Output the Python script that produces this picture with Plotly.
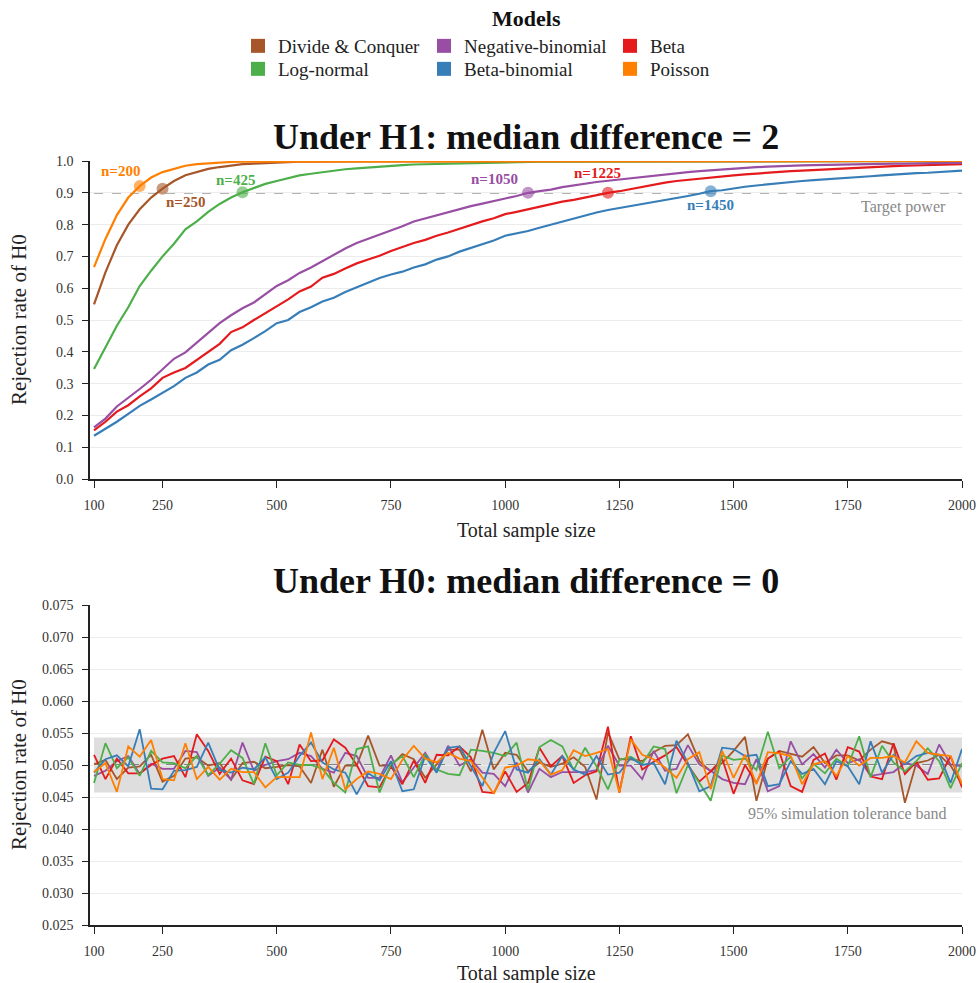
import plotly.graph_objects as go

# ---------------- data ----------------
sample_sizes = list(range(100, 2001, 25))
x_ticks = [100, 250, 500, 750, 1000, 1250, 1500, 1750, 2000]

models = ["Divide & Conquer", "Negative-binomial", "Beta", "Log-normal", "Beta-binomial", "Poisson"]
colors = {"Divide & Conquer": "#a65628", "Negative-binomial": "#984ea3", "Beta": "#e41a1c",
          "Log-normal": "#4daf4a", "Beta-binomial": "#377eb8", "Poisson": "#ff7f00"}

# Power under H1 (median difference = 2)
h1_divide_conquer = [
    .549, .650, .735, .800, .848, .885, .913, .937, .955, .966,
    .975, .981, .986, .990, .992, .994, .996, .997, .998, .998,
    .999, .999, .999, .999, .999, 1.0, 1.0, 1.0, 1.0, 1.0,
    1.0, 1.0, 1.0, 1.0, 1.0, 1.0, 1.0, 1.0, 1.0, 1.0,
    1.0, 1.0, 1.0, 1.0, 1.0, 1.0, 1.0, 1.0, 1.0, 1.0,
    1.0, 1.0, 1.0, 1.0, 1.0, 1.0, 1.0, 1.0, 1.0, 1.0,
    1.0, 1.0, 1.0, 1.0, 1.0, 1.0, 1.0, 1.0, 1.0, 1.0,
    1.0, 1.0, 1.0, 1.0, 1.0, 1.0, 1.0]
h1_negative_binomial = [
    .162, .190, .228, .255, .283, .312, .344, .378, .398, .428,
    .458, .490, .515, .537, .555, .580, .607, .625, .648, .665,
    .685, .705, .725, .742, .755, .770, .783, .795, .810, .820,
    .830, .840, .850, .858, .866, .875, .882, .890, .900, .905,
    .910, .918, .924, .929, .934, .938, .942, .946, .951, .955,
    .958, .962, .965, .968, .971, .974, .977, .979, .981, .982,
    .984, .985, .986, .987, .988, .989, .989, .990, .991, .991,
    .992, .992, .993, .993, .994, .994, .995]
h1_beta = [
    .153, .180, .212, .232, .260, .285, .318, .335, .349, .375,
    .400, .425, .462, .477, .500, .522, .545, .565, .590, .605,
    .633, .645, .662, .678, .690, .702, .717, .730, .742, .752,
    .765, .775, .787, .797, .810, .820, .833, .840, .848, .858,
    .865, .872, .878, .886, .893, .900, .905, .912, .918, .925,
    .932, .937, .941, .945, .949, .952, .955, .958, .961, .964,
    .966, .968, .970, .972, .974, .976, .978, .979, .981, .982,
    .984, .985, .986, .987, .988, .989, .990]
h1_log_normal = [
    .346, .415, .482, .540, .607, .655, .700, .740, .785, .810,
    .840, .865, .885, .902, .915, .928, .937, .945, .955, .960,
    .965, .970, .974, .977, .980, .983, .985, .987, .989, .990,
    .991, .992, .993, .994, .995, .996, .996, .997, .997, .998,
    .998, .998, .998, .999, .999, .999, .999, .999, .999, .999,
    .999, .999, 1.0, 1.0, 1.0, 1.0, 1.0, 1.0, 1.0, 1.0,
    1.0, 1.0, 1.0, 1.0, 1.0, 1.0, 1.0, 1.0, 1.0, 1.0,
    1.0, 1.0, 1.0, 1.0, 1.0, 1.0, 1.0]
h1_beta_binomial = [
    .136, .158, .180, .205, .230, .250, .270, .292, .318, .335,
    .360, .375, .405, .422, .443, .465, .490, .500, .525, .540,
    .558, .570, .588, .603, .617, .632, .643, .652, .665, .675,
    .690, .700, .715, .727, .740, .750, .765, .772, .780, .790,
    .800, .810, .818, .828, .838, .846, .852, .860, .866, .872,
    .878, .884, .890, .897, .905, .908, .914, .919, .923, .927,
    .931, .934, .937, .940, .942, .944, .947, .950, .952, .955,
    .958, .960, .962, .963, .966, .968, .970]
h1_poisson = [
    .666, .755, .830, .885, .921, .948, .965, .976, .985, .990,
    .993, .995, .997, .998, .998, .999, .999, 1.0, 1.0, 1.0,
    1.0, 1.0, 1.0, 1.0, 1.0, 1.0, 1.0, 1.0, 1.0, 1.0,
    1.0, 1.0, 1.0, 1.0, 1.0, 1.0, 1.0, 1.0, 1.0, 1.0,
    1.0, 1.0, 1.0, 1.0, 1.0, 1.0, 1.0, 1.0, 1.0, 1.0,
    1.0, 1.0, 1.0, 1.0, 1.0, 1.0, 1.0, 1.0, 1.0, 1.0,
    1.0, 1.0, 1.0, 1.0, 1.0, 1.0, 1.0, 1.0, 1.0, 1.0,
    1.0, 1.0, 1.0, 1.0, 1.0, 1.0, 1.0]

# Type I error under H0 (median difference = 0)
h0_divide_conquer = [
    .0501, .0508, .0478, .0496, .0498, .0516, .0474, .0483, .0510, .0512,
    .0499, .0503, .0477, .0503, .0505, .0495, .0497, .0500, .0498, .0472,
    .0524, .0466, .0499, .0499, .0546, .0499, .0499, .0517, .0509, .0480,
    .0501, .0524, .0524, .0490, .0555, .0493, .0519, .0516, .0490, .0504,
    .0497, .0502, .0512, .0497, .0446, .0551, .0509, .0509, .0506, .0520,
    .0530, .0531, .0548, .0506, .0490, .0503, .0522, .0544, .0444, .0510,
    .0522, .0518, .0513, .0528, .0503, .0515, .0515, .0507, .0524, .0537,
    .0532, .0441, .0503, .0507, .0516, .0499, .0470]
h0_negative_binomial = [
    .0483, .0491, .0506, .0514, .0486, .0502, .0494, .0494, .0522, .0520,
    .0483, .0496, .0477, .0535, .0491, .0500, .0506, .0509, .0519, .0514,
    .0494, .0488, .0519, .0514, .0480, .0480, .0515, .0473, .0496, .0519,
    .0491, .0530, .0499, .0509, .0488, .0486, .0467, .0504, .0457, .0494,
    .0481, .0489, .0489, .0489, .0492, .0530, .0499, .0499, .0478, .0522,
    .0491, .0494, .0531, .0501, .0491, .0478, .0472, .0470, .0509, .0459,
    .0467, .0537, .0501, .0517, .0496, .0524, .0503, .0509, .0483, .0486,
    .0489, .0503, .0499, .0486, .0532, .0501, .0498]
h0_beta = [
    .0516, .0478, .0510, .0487, .0487, .0500, .0510, .0514, .0481, .0548,
    .0522, .0486, .0510, .0476, .0470, .0513, .0506, .0470, .0532, .0506,
    .0507, .0540, .0527, .0500, .0467, .0465, .0498, .0470, .0507, .0472,
    .0516, .0515, .0529, .0512, .0458, .0456, .0490, .0458, .0472, .0527,
    .0498, .0514, .0472, .0484, .0490, .0560, .0457, .0545, .0493, .0505,
    .0515, .0528, .0500, .0474, .0490, .0510, .0455, .0500, .0472, .0510,
    .0521, .0467, .0458, .0508, .0518, .0477, .0528, .0521, .0482, .0478,
    .0534, .0486, .0505, .0477, .0479, .0514, .0465]
h0_log_normal = [
    .0472, .0534, .0495, .0512, .0483, .0522, .0504, .0503, .0495, .0514,
    .0484, .0502, .0523, .0511, .0470, .0534, .0484, .0504, .0500, .0500,
    .0494, .0472, .0457, .0525, .0529, .0457, .0501, .0514, .0481, .0516,
    .0493, .0486, .0484, .0524, .0522, .0519, .0514, .0535, .0461, .0528,
    .0539, .0529, .0492, .0527, .0498, .0462, .0508, .0513, .0502, .0529,
    .0525, .0456, .0500, .0472, .0444, .0515, .0508, .0510, .0492, .0552,
    .0495, .0513, .0479, .0502, .0487, .0510, .0498, .0545, .0481, .0530,
    .0504, .0490, .0506, .0526, .0506, .0464, .0503]
h0_beta_binomial = [
    .0488, .0509, .0515, .0498, .0556, .0463, .0462, .0491, .0492, .0497,
    .0535, .0492, .0488, .0496, .0493, .0512, .0478, .0488, .0514, .0535,
    .0504, .0493, .0488, .0454, .0487, .0476, .0506, .0459, .0462, .0514,
    .0488, .0527, .0529, .0498, .0467, .0519, .0553, .0493, .0488, .0509,
    .0485, .0514, .0493, .0485, .0514, .0485, .0488, .0511, .0500, .0503,
    .0470, .0538, .0503, .0459, .0467, .0527, .0525, .0514, .0516, .0467,
    .0470, .0506, .0486, .0494, .0470, .0506, .0498, .0470, .0537, .0488,
    .0516, .0501, .0514, .0519, .0516, .0472, .0525]
h0_poisson = [
    .0489, .0503, .0458, .0529, .0513, .0539, .0478, .0476, .0534, .0478,
    .0497, .0477, .0494, .0489, .0489, .0465, .0481, .0481, .0481, .0551,
    .0478, .0527, .0462, .0478, .0490, .0486, .0478, .0508, .0530, .0510,
    .0504, .0519, .0510, .0506, .0480, .0455, .0496, .0499, .0509, .0507,
    .0485, .0492, .0523, .0514, .0519, .0525, .0457, .0540, .0516, .0509,
    .0496, .0480, .0509, .0520, .0462, .0522, .0480, .0516, .0470, .0520,
    .0518, .0514, .0470, .0501, .0506, .0483, .0514, .0499, .0511, .0511,
    .0514, .0504, .0537, .0519, .0516, .0514, .0470]

h1_series = {"Divide & Conquer": h1_divide_conquer, "Negative-binomial": h1_negative_binomial,
             "Beta": h1_beta, "Log-normal": h1_log_normal,
             "Beta-binomial": h1_beta_binomial, "Poisson": h1_poisson}
h0_series = {"Divide & Conquer": h0_divide_conquer, "Negative-binomial": h0_negative_binomial,
             "Beta": h0_beta, "Log-normal": h0_log_normal,
             "Beta-binomial": h0_beta_binomial, "Poisson": h0_poisson}

# sample size reaching target power, per model
n_required = {"Poisson": 200, "Divide & Conquer": 250, "Log-normal": 425,
              "Negative-binomial": 1050, "Beta": 1225, "Beta-binomial": 1450}
label_shift = {"Poisson": (-19, 15), "Divide & Conquer": (23, -13), "Log-normal": (-7, 12),
               "Negative-binomial": (-34, 14), "Beta": (-10, 20), "Beta-binomial": (0, -14)}

target_power = 0.9
alpha = 0.05
band_low, band_high = 0.0457, 0.0543

# ---------------- figure ----------------
FONT = "Liberation Serif, Times New Roman, serif"
W, H = 978, 983
ML, MR = 90, 16
PW = W - ML - MR


def px_x(p):
    return (p - ML) / PW


def px_y(p):
    return 1 - p / H


fig = go.Figure()

draw_order = ["Beta-binomial", "Beta", "Negative-binomial", "Log-normal", "Divide & Conquer", "Poisson"]
for m in draw_order:
    fig.add_trace(go.Scatter(x=sample_sizes, y=h1_series[m], mode="lines",
                             line=dict(color=colors[m], width=2.2), showlegend=False,
                             cliponaxis=False, xaxis="x", yaxis="y", hoverinfo="skip"))
for m in ["Divide & Conquer", "Negative-binomial", "Beta", "Log-normal", "Beta-binomial", "Poisson"]:
    fig.add_trace(go.Scatter(x=sample_sizes, y=h0_series[m], mode="lines",
                             line=dict(color=colors[m], width=1.8), showlegend=False,
                             xaxis="x2", yaxis="y2", hoverinfo="skip"))

# markers at required n
for m, n in n_required.items():
    idx = sample_sizes.index(n)
    yv = h1_series[m][idx]
    fig.add_trace(go.Scatter(x=[n], y=[yv], mode="markers",
                             marker=dict(color=colors[m], size=12, opacity=0.6),
                             showlegend=False, xaxis="x", yaxis="y", hoverinfo="skip"))
    dx, dy = label_shift[m]
    fig.add_annotation(x=n, y=yv, xref="x", yref="y", text=f"<b>n={n}</b>", showarrow=False,
                       xshift=dx, yshift=dy, font=dict(family=FONT, size=15, color=colors[m]))

# legend entries: two row legends, three columns each
legend_rows = [["Divide & Conquer", "Negative-binomial", "Beta"],
               ["Log-normal", "Beta-binomial", "Poisson"]]
legend_names = ["legend", "legend2"]
for lname, row in zip(legend_names, legend_rows):
    for m in row:
        fig.add_trace(go.Scatter(x=[None], y=[None], mode="markers", name=m,
                                 marker=dict(color=colors[m], size=14, symbol="square"),
                                 legend=lname, showlegend=True, xaxis="x", yaxis="y"))

leg_common = dict(orientation="h", xref="container", yref="container", xanchor="left",
                  yanchor="top", x=238 / W, bgcolor="rgba(0,0,0,0)",
                  font=dict(family=FONT, size=19, color="#222"),
                  entrywidth=141, entrywidthmode="pixels",
                  itemclick=False, itemdoubleclick=False)
fig.update_layout(
    legend=dict(y=1 - 27 / H, **leg_common),
    legend2=dict(y=1 - 50 / H, **leg_common),
)

# reference lines and band
fig.add_shape(type="line", xref="x", yref="y", x0=sample_sizes[0], x1=sample_sizes[-1],
              y0=target_power, y1=target_power, line=dict(color="#666", width=1.3, dash="dash"),
              layer="below")
fig.add_shape(type="rect", xref="x2", yref="y2", x0=sample_sizes[0], x1=sample_sizes[-1],
              y0=band_low, y1=band_high, fillcolor="#dedede", line=dict(width=0), layer="below")
fig.add_shape(type="line", xref="x2", yref="y2", x0=sample_sizes[0], x1=sample_sizes[-1],
              y0=alpha, y1=alpha, line=dict(color="#666", width=1.3, dash="dash"), layer="below")

fig.add_annotation(x=sample_sizes[-1], y=target_power, xref="x", yref="y", text="Target power",
                   showarrow=False, xanchor="right", yanchor="top", xshift=-14, yshift=-3,
                   font=dict(family=FONT, size=16, color="#888"))
fig.add_annotation(x=sample_sizes[-1], y=band_low, xref="x2", yref="y2",
                   text="95% simulation tolerance band", showarrow=False, xanchor="right",
                   yanchor="top", xshift=-13, yshift=-10, font=dict(family=FONT, size=16, color="#888"))

# titles
title_font = dict(family=FONT, size=36, color="#111")
fig.add_annotation(x=0.5, y=px_y(137), xref="paper", yref="paper", showarrow=False,
                   text="<b>Under H1: median difference = 2</b>", font=title_font, yanchor="middle")
fig.add_annotation(x=0.5, y=px_y(581), xref="paper", yref="paper", showarrow=False,
                   text="<b>Under H0: median difference = 0</b>", font=title_font, yanchor="middle")
fig.add_annotation(x=0.5, y=px_y(18), xref="paper", yref="paper", showarrow=False,
                   text="<b>Models</b>", font=dict(family=FONT, size=22, color="#111"),
                   yanchor="middle")

xtitle_font = dict(family=FONT, size=20, color="#222")
ytitle_font = dict(family=FONT, size=21, color="#222")
for ypx in (530, 973):
    fig.add_annotation(x=0.5, y=px_y(ypx), xref="paper", yref="paper", showarrow=False,
                       text="Total sample size", font=xtitle_font, yanchor="middle")
for ypx in (320, 765):
    fig.add_annotation(x=px_x(19), y=px_y(ypx), xref="paper", yref="paper", showarrow=False,
                       text="Rejection rate of H0", textangle=-90, font=ytitle_font,
                       xanchor="center", yanchor="middle")

tick_font = dict(family=FONT, size=14, color="#333")
xaxis_common = dict(range=[91.2, 2000], tickvals=x_ticks, ticktext=[str(t) for t in x_ticks],
                    showgrid=False, zeroline=False, showline=True, linecolor="#222", linewidth=1.5,
                    ticks="outside", ticklen=7, tickcolor="#222", tickwidth=1, tickfont=tick_font,
                    ticklabelstandoff=5, fixedrange=True)
yaxis_common = dict(showgrid=True, gridcolor="#ececec", gridwidth=1, zeroline=False, showline=True,
                    linecolor="#222", linewidth=1.5, ticks="outside", ticklen=6, tickcolor="#222",
                    tickwidth=1, tickfont=tick_font, ticklabelstandoff=6, fixedrange=True)

fig.update_layout(
    width=W, height=H, margin=dict(l=ML, r=MR, t=0, b=0, autoexpand=False),
    paper_bgcolor="white", plot_bgcolor="white",
    xaxis=dict(domain=[0, 1], anchor="y", **xaxis_common),
    yaxis=dict(domain=[px_y(479), px_y(161)], anchor="x", range=[0, 1],
               tickvals=[i / 10 for i in range(11)], tickformat=".1f", **yaxis_common),
    xaxis2=dict(domain=[0, 1], anchor="y2", **xaxis_common),
    yaxis2=dict(domain=[px_y(925), px_y(605)], anchor="x2", range=[0.025, 0.075],
                tickvals=[0.025 + 0.005 * i for i in range(11)], tickformat=".3f", **yaxis_common),
    hovermode=False,
)

fig.write_html("out.html")
